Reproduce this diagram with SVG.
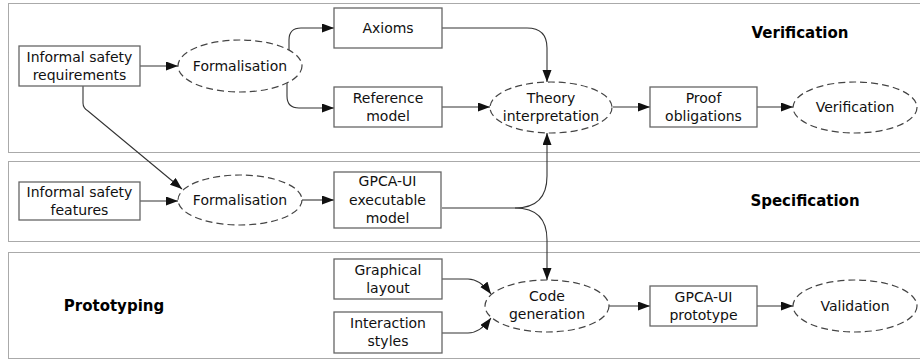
<svg xmlns="http://www.w3.org/2000/svg" width="920" height="360" viewBox="0 0 920 360">
<defs>
<marker id="arr" markerUnits="userSpaceOnUse" markerWidth="12" markerHeight="10" refX="12" refY="4.5" orient="auto">
<path d="M0,0 L12,4.5 L0,9 z" fill="#111"/>
</marker>
<style>
.sec{fill:none;stroke:#555;stroke-width:1;stroke-dasharray:1,1}
.box{fill:#fff;stroke:#666;stroke-width:1.3}
.ell{fill:#fff;stroke:#444;stroke-width:1.2;stroke-dasharray:7,4}
.t{font-family:"DejaVu Sans",sans-serif;font-size:14px;fill:#111;text-anchor:middle}
.h{font-family:"DejaVu Sans",sans-serif;font-size:15px;font-weight:bold;fill:#000;text-anchor:middle}
.c{fill:none;stroke:#333;stroke-width:1.1;marker-end:url(#arr)}
</style>
</defs>
<g id="sections">
<rect class="sec" x="8.5" y="3.5" width="920" height="149"/>
<rect class="sec" x="8.5" y="161.5" width="920" height="80"/>
<rect class="sec" x="8.5" y="252.5" width="920" height="106"/>
<text class="h" x="800" y="38">Verification</text>
<text class="h" x="805" y="206">Specification</text>
<text class="h" x="114" y="311">Prototyping</text>
</g>
<g id="connectors">
<path class="c" d="M140,66 H178"/>
<path class="c" d="M289,50 V40 Q289,28 301,28 H334"/>
<path class="c" d="M287,82 V96 Q287,108 299,108 H334"/>
<path class="c" d="M442,28 H527 Q547,28 547,48 V82"/>
<path class="c" d="M442,107 H490"/>
<path class="c" d="M613,107 H650"/>
<path class="c" d="M757,107 H793"/>
<path class="c" d="M83,86 V103 Q83,108 88,111 L182,189"/>
<path class="c" d="M140,201 H178"/>
<path class="c" d="M302,200 H334"/>
<path class="c" d="M442,208 H515 Q547,208 547,176 V133"/>
<path class="c" d="M515,208 Q547,208 547,240 V280"/>
<path class="c" d="M442,279 H468 Q480,279 491,294"/>
<path class="c" d="M442,333 H468 Q480,333 491,318"/>
<path class="c" d="M609,306 H650"/>
<path class="c" d="M757,306 H793"/>
</g>
<g id="informal-safety-requirements">
<rect class="box" x="19" y="46" width="121" height="40"/>
<text class="t" x="79.5" y="62">Informal safety</text>
<text class="t" x="79.5" y="80">requirements</text>
</g>
<g id="formalisation-1">
<ellipse class="ell" cx="240" cy="66" rx="62" ry="26"/>
<text class="t" x="240" y="71">Formalisation</text>
</g>
<g id="axioms">
<rect class="box" x="334" y="8" width="108" height="40"/>
<text class="t" x="388" y="33">Axioms</text>
</g>
<g id="reference-model">
<rect class="box" x="334" y="87" width="108" height="40"/>
<text class="t" x="388" y="103">Reference</text>
<text class="t" x="388" y="121">model</text>
</g>
<g id="theory-interpretation">
<ellipse class="ell" cx="551" cy="107.5" rx="61" ry="25.5"/>
<text class="t" x="551" y="103">Theory</text>
<text class="t" x="551" y="121">interpretation</text>
</g>
<g id="proof-obligations">
<rect class="box" x="650" y="87" width="107" height="40"/>
<text class="t" x="703.5" y="103">Proof</text>
<text class="t" x="703.5" y="121">obligations</text>
</g>
<g id="verification">
<ellipse class="ell" cx="855" cy="107.5" rx="62" ry="25.5"/>
<text class="t" x="855" y="112">Verification</text>
</g>
<g id="informal-safety-features">
<rect class="box" x="19" y="182" width="121" height="38"/>
<text class="t" x="79.5" y="197">Informal safety</text>
<text class="t" x="79.5" y="215">features</text>
</g>
<g id="formalisation-2">
<ellipse class="ell" cx="240" cy="200" rx="62" ry="25"/>
<text class="t" x="240" y="205">Formalisation</text>
</g>
<g id="gpca-ui-executable-model">
<rect class="box" x="334" y="172" width="107" height="56"/>
<text class="t" x="387.5" y="186">GPCA-UI</text>
<text class="t" x="387.5" y="204.5">executable</text>
<text class="t" x="387.5" y="223">model</text>
</g>
<g id="graphical-layout">
<rect class="box" x="334" y="259" width="108" height="40"/>
<text class="t" x="388" y="275">Graphical</text>
<text class="t" x="388" y="293">layout</text>
</g>
<g id="interaction-styles">
<rect class="box" x="334" y="312" width="108" height="41"/>
<text class="t" x="388" y="328">Interaction</text>
<text class="t" x="388" y="346">styles</text>
</g>
<g id="code-generation">
<ellipse class="ell" cx="547" cy="306" rx="62" ry="26"/>
<text class="t" x="547" y="301">Code</text>
<text class="t" x="547" y="319">generation</text>
</g>
<g id="gpca-ui-prototype">
<rect class="box" x="650" y="286" width="107" height="40"/>
<text class="t" x="703.5" y="302">GPCA-UI</text>
<text class="t" x="703.5" y="320">prototype</text>
</g>
<g id="validation">
<ellipse class="ell" cx="855" cy="306" rx="62" ry="26"/>
<text class="t" x="855" y="311">Validation</text>
</g>
</svg>
